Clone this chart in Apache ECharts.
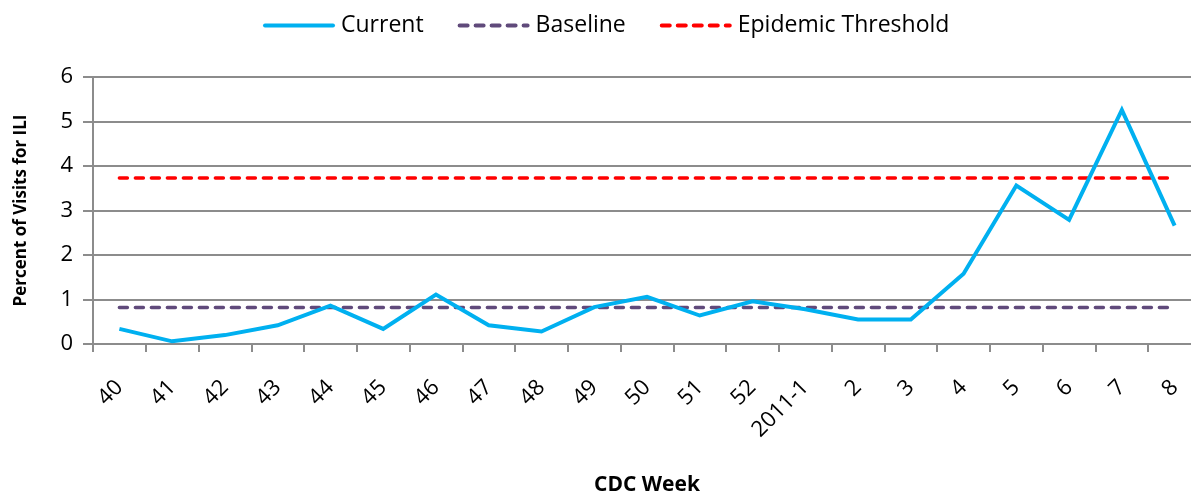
<!DOCTYPE html>
<html>
<head>
<meta charset="utf-8">
<script src="https://cdn.jsdelivr.net/npm/echarts@6/dist/echarts.min.js"></script>
<style>html,body{margin:0;padding:0;background:#fff;}#c{width:1191px;height:497px;}</style>
</head>
<body>
<div id="c"></div>
<script>
const weeks = ['40','41','42','43','44','45','46','47','48','49','50','51','52','2011-1','2','3','4','5','6','7','8'];
const current = [0.34,0.06,0.20,0.42,0.86,0.34,1.11,0.42,0.28,0.83,1.06,0.64,0.96,0.78,0.55,0.55,1.58,3.56,2.79,5.26,2.66];
const baseline = [0.82,0.82,0.82,0.82,0.82,0.82,0.82,0.82,0.82,0.82,0.82,0.82,0.82,0.82,0.82,0.82,0.82,0.82,0.82,0.82,0.82];
const threshold = [3.73,3.73,3.73,3.73,3.73,3.73,3.73,3.73,3.73,3.73,3.73,3.73,3.73,3.73,3.73,3.73,3.73,3.73,3.73,3.73,3.73];
const yTicks = [0,1,2,3,4,5,6];

const FONT = '"Open Sans", "Liberation Sans", sans-serif';
const chart = echarts.init(document.getElementById('c'), null, {renderer:'canvas'});
chart.setOption({
  animation: false,
  backgroundColor: '#fff',
  textStyle: {fontFamily: FONT},
  legend: {
    top: 9, left: 258,
    itemWidth: 68, itemHeight: 6, itemGap: 34,
    itemStyle: {opacity: 0},
    lineStyle: {width: 4, cap: 'round'},
    textStyle: {fontFamily: FONT, fontSize: 23, color: '#000', padding: [0,0,0,3]},
    data: ['Current','Baseline','Epidemic Threshold']
  },
  grid: {left: 93, top: 77, width: 1108, height: 267, containLabel: false, outerBoundsMode: 'none'},
  xAxis: {
    type: 'category', data: weeks, boundaryGap: true,
    name: 'CDC Week', nameLocation: 'middle', nameGap: 131,
    nameTextStyle: {fontFamily: FONT, fontSize: 21, fontWeight: 'bold', color: '#000'},
    axisLine: {lineStyle: {color: '#8c8c8c', width: 2}},
    axisTick: {show: true, length: 8, alignWithLabel: false, lineStyle: {color: '#8c8c8c', width: 2}},
    axisLabel: {rotate: 45, margin: 40, fontFamily: FONT, fontSize: 22, color: '#000', interval: 0}
  },
  yAxis: {
    type: 'value', min: 0, max: 6, interval: 1,
    name: 'Percent of Visits for ILI', nameLocation: 'middle', nameGap: 63, nameRotate: 90,
    nameTextStyle: {fontFamily: FONT, fontSize: 17, fontWeight: 'bold', color: '#000'},
    axisLine: {show: true, lineStyle: {color: '#8c8c8c', width: 2}},
    axisTick: {show: true, length: 10, inside: false, lineStyle: {color: '#8c8c8c', width: 2}},
    splitLine: {show: true, lineStyle: {color: '#8c8c8c', width: 2}},
    axisLabel: {margin: 20, fontFamily: FONT, fontSize: 22, color: '#000',
      formatter: v => yTicks.includes(v) ? String(v) : ''}
  },
  series: [
    {name: 'Current', type: 'line', data: current, symbol: 'none', z: 5,
     lineStyle: {color: '#00b0f0', width: 4, join: 'miter'}, itemStyle: {color: '#00b0f0'}},
    {name: 'Baseline', type: 'line', data: baseline, symbol: 'none', z: 3,
     lineStyle: {color: '#604a7b', width: 3.5, type: [8,8], cap: 'round'}, itemStyle: {color: '#604a7b'}},
    {name: 'Epidemic Threshold', type: 'line', data: threshold, symbol: 'none', z: 3,
     lineStyle: {color: '#ff0000', width: 3.5, type: [8,8], cap: 'round'}, itemStyle: {color: '#ff0000'}}
  ]
});
</script>
</body>
</html>
